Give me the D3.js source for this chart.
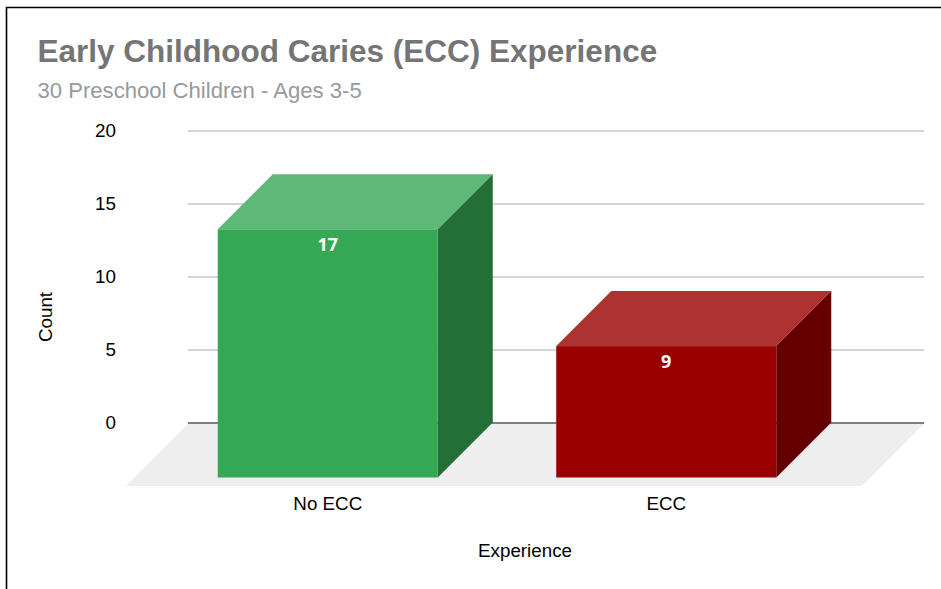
<!DOCTYPE html>
<html>
<head>
<meta charset="utf-8">
<script src="https://cdn.jsdelivr.net/npm/d3@7"></script>
<style>
html,body{margin:0;padding:0;background:#fff;overflow:hidden}
svg{display:block}
text{font-family:"Liberation Sans",Arial,sans-serif}
</style>
</head>
<body>
<svg id="chart" width="941" height="589"></svg>
<script>
const categories = ["No ECC", "ECC"];
const counts = [17, 9];
const yTicks = [0, 5, 10, 15, 20];
const frontColors = ["#34a853", "#990000"];
const topColors = ["#5eb978", "#ad3333"];
const sideColors = ["#236f37", "#660000"];
const chartTitle = "Early Childhood Caries (ECC) Experience";
const chartSubtitle = "30 Preschool Children - Ages 3-5";
const xTitle = "Experience";
const yTitle = "Count";

const W = 941, H = 589;
const depth = 55, y0 = 422.5;
const labelSize = 18.8;
const svg = d3.select("#chart");

const y = d3.scaleLinear().domain([0, 20]).range([y0, 130.5]);
const x = d3.scaleBand().domain(categories).range([158.5, 835.5]).paddingInner(0.35).paddingOuter(0.175);
const gridLeft = 188, gridRight = 924;

// frame
svg.append("path").attr("d", `M${W},7.5H6.5V${H}`).attr("fill", "none").attr("stroke", "#000").attr("stroke-width", 1.6);

// titles
svg.append("text").attr("x", 37.5).attr("y", 62).attr("font-size", 31.5).attr("font-weight", "bold").attr("fill", "#757575").text(chartTitle);
svg.append("text").attr("x", 37.5).attr("y", 98).attr("font-size", 22.1).attr("fill", "#999999").text(chartSubtitle);

// floor
svg.append("polygon")
  .attr("points", [[gridLeft, y0 + 1], [gridRight, y0 + 1], [gridRight - 62, 486], [gridLeft - 62, 486]].join(" "))
  .attr("fill", "#eeeeee");

// gridlines and y ticks
const yAxis = svg.append("g").attr("transform", `translate(${gridLeft},0)`)
  .call(d3.axisLeft(y).tickValues(yTicks).tickSize(0).tickPadding(72).tickSizeInner(-(gridRight - gridLeft)));
yAxis.select(".domain").remove();
yAxis.selectAll("line")
  .attr("stroke", d => d === 0 ? "#555555" : "#c6c6c6")
  .attr("stroke-width", d => d === 0 ? 1.3 : 1.4);
yAxis.selectAll("text")
  .attr("font-size", labelSize).attr("fill", "#000")
  .attr("font-family", '"Liberation Sans",Arial,sans-serif');

// bars
const front = d => {
  const top = y(d.v) + depth, bottom = y0 + depth;
  return { l: x(d.c), r: x(d.c) + x.bandwidth(), t: top, b: bottom };
};
const data = categories.map((c, i) => ({ c, v: counts[i], i }));
const bars = svg.append("g").selectAll("g").data(data).join("g");
bars.append("polygon")
  .attr("fill", d => topColors[d.i])
  .attr("points", d => { const f = front(d); return [[f.l, f.t], [f.l + depth, f.t - depth], [f.r + depth, f.t - depth], [f.r, f.t]].join(" "); });
bars.append("polygon")
  .attr("fill", d => sideColors[d.i])
  .attr("points", d => { const f = front(d); return [[f.r, f.t], [f.r + depth, f.t - depth], [f.r + depth, f.b - depth], [f.r, f.b]].join(" "); });
bars.append("rect")
  .attr("fill", d => frontColors[d.i])
  .attr("x", d => front(d).l).attr("y", d => front(d).t)
  .attr("width", x.bandwidth()).attr("height", d => front(d).b - front(d).t);
bars.append("text")
  .attr("x", d => x(d.c) + x.bandwidth() / 2)
  .attr("y", d => front(d).t + 22)
  .attr("text-anchor", "middle").attr("font-size", 18).attr("font-weight", "bold").attr("fill", "#fff")
  .style("font-family", '"Open Sans",sans-serif')
  .text(d => d.v);

// category axis
const xAxis = svg.append("g").attr("transform", "translate(0,492)")
  .call(d3.axisBottom(x).tickSize(0).tickPadding(5));
xAxis.select(".domain").remove();
xAxis.selectAll("text").attr("font-size", labelSize).attr("fill", "#000")
  .attr("font-family", '"Liberation Sans",Arial,sans-serif');

// axis titles
svg.append("text").attr("x", 525).attr("y", 557).attr("text-anchor", "middle").attr("font-size", labelSize).attr("fill", "#000").text(xTitle);
svg.append("text").attr("transform", "translate(52,317) rotate(-90)").attr("text-anchor", "middle").attr("font-size", labelSize).attr("fill", "#000").text(yTitle);
</script>
</body>
</html>
